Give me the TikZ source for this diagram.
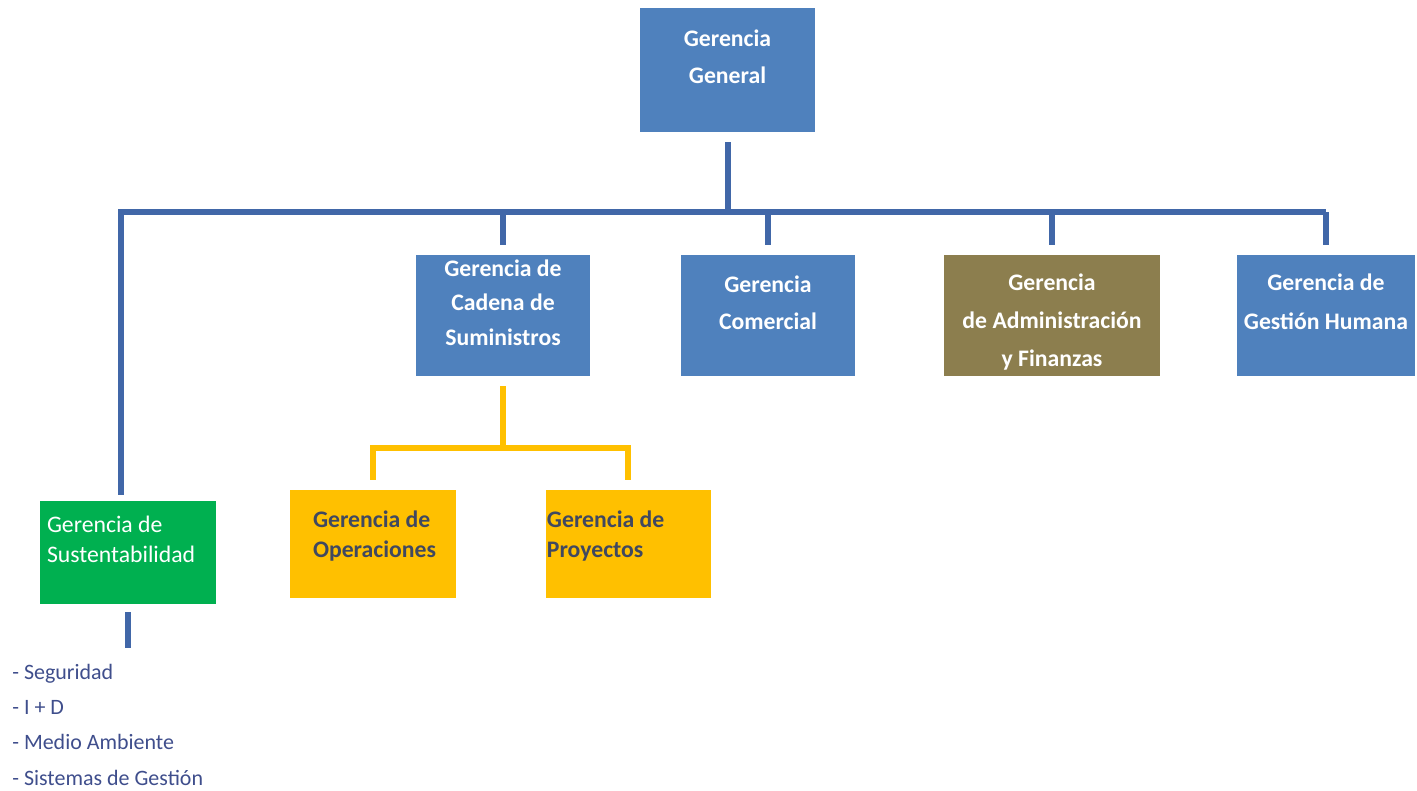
\documentclass[tikz,border=0pt]{standalone}
\usepackage{fontspec}
\setmainfont{Carlito}
\usetikzlibrary{positioning}
\definecolor{boxblue}{HTML}{4F81BD}
\definecolor{lineblue}{HTML}{4167A8}
\definecolor{olive}{HTML}{8C7E4E}
\definecolor{boxgreen}{HTML}{00B050}
\definecolor{boxyellow}{HTML}{FFC000}
\definecolor{darktext}{HTML}{404860}
\definecolor{listtext}{HTML}{3F4E8C}
% struts to push the text of a box up or down
\newcommand\lowpad[1]{\rule[-#1]{0pt}{#1}}
\newcommand\highpad[1]{\rule{0pt}{#1}}
\begin{document}
\begin{tikzpicture}[x=0.02cm,y=-0.02cm,on grid,
    unit/.style={fill=boxblue,text=white,font=\fontsize{13.5}{21}\selectfont\bfseries,
      align=center,minimum width=3.48cm,minimum height=2.42cm,inner sep=2pt},
    sub/.style={fill=boxyellow,text=darktext,font=\fontsize{13.5}{17}\selectfont\bfseries,
      align=flush left,minimum height=2.16cm},
    link/.style={draw=lineblue,line width=0.12cm},
    ylink/.style={draw=boxyellow,line width=0.12cm}]
  \useasboundingbox (0,0) rectangle (1417,791);
  % top level
  \node[unit,minimum width=3.5cm,minimum height=2.48cm] (gg) at (727.5,70) {Gerencia\\General\lowpad{0.55cm}};
  % second level
  \node[unit,font=\fontsize{13.5}{19.5}\selectfont\bfseries] (cad) at (503,315.5) {Gerencia de\\Cadena de\\Suministros\lowpad{0.52cm}};
  \node[unit] (com) at (768,315.5) {Gerencia\\Comercial\lowpad{0.52cm}};
  \node[unit,fill=olive,minimum width=4.32cm,font=\fontsize{13.5}{21.5}\selectfont\bfseries] (adm) at (1052,315.5) {\highpad{0.6cm}Gerencia\\de Administración\\y Finanzas};
  \node[unit,minimum width=3.56cm,font=\fontsize{13.5}{22.5}\selectfont\bfseries] (gh) at (1326,315.5) {Gerencia de\\Gestión Humana\lowpad{0.55cm}};
  \node[fill=boxgreen,text=white,align=flush left,font=\fontsize{13.5}{17}\selectfont,
    text width=3.24cm,inner xsep=0.14cm,minimum height=2.06cm] (sus) at (128,552.5)
    {Gerencia de\\Sustentabilidad\lowpad{0.52cm}};
  % under Cadena de Suministros
  \node[sub,text width=2.4cm,inner xsep=0.46cm] (ope) at (373,544) {Gerencia de\\Operaciones\lowpad{0.38cm}};
  \node[sub,text width=3.26cm,inner xsep=0.02cm] (pro) [right=5.11cm of ope] {Gerencia de\\Proyectos\lowpad{0.38cm}};
  \node[anchor=north west,text=listtext,align=flush left,inner sep=0pt,
    font=\fontsize{12.5}{20}\selectfont] (list) at (12,664)
    {- Seguridad\\- I + D\\- Medio Ambiente\\- Sistemas de Gestión};
  % connectors
  \coordinate (bus) at (0,212);
  \coordinate (ybus) at (0,448);
  \draw[link] ([yshift=-0.2cm]gg.south) -- (gg.south |- bus);
  \draw[link] ([xshift=-0.14cm,yshift=0.12cm]sus.north) -- ([xshift=-0.14cm]sus.north |- bus) -- (gh.north |- bus);
  \foreach \n in {cad,com,adm,gh}
    \draw[link] (\n.north |- bus) -- ([yshift=0.2cm]\n.north);
  \draw[link] ([yshift=-0.16cm]sus.south) -- ++(0,36);
  \draw[ylink] ([yshift=-0.2cm]cad.south) -- (cad.south |- ybus);
  \draw[ylink] ([yshift=0.2cm]ope.north) -- (ope.north |- ybus) -- (pro.north |- ybus) -- ([yshift=0.2cm]pro.north);
\end{tikzpicture}
\end{document}
